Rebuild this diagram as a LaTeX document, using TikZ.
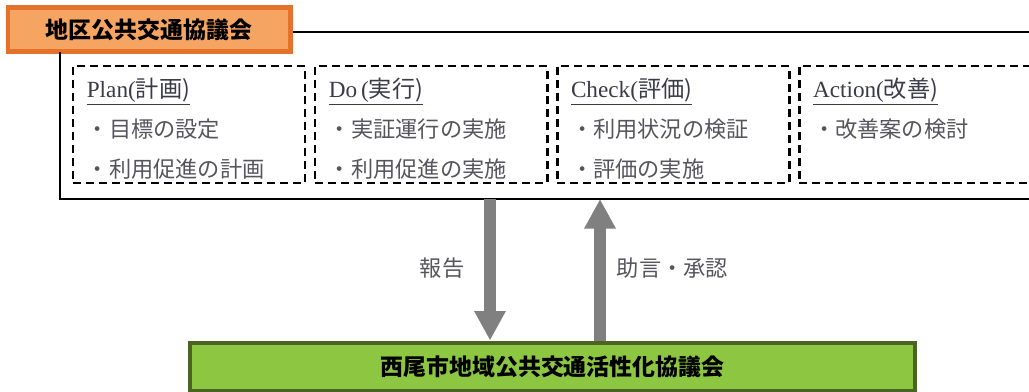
\documentclass[tikz,border=0pt]{standalone}
\usepackage{fontspec}
\setmainfont{Liberation Serif}
\newfontfamily\jp{Noto Sans CJK JP}
\usepackage{xcolor}
\usetikzlibrary{arrows.meta, positioning}
\definecolor{orgfill}{HTML}{F6A462}
\definecolor{orgline}{HTML}{E4722A}
\definecolor{grnfill}{HTML}{8DC641}
\definecolor{grnline}{HTML}{4B6426}
\definecolor{headgray}{HTML}{3A3A48}
\definecolor{txtgray}{HTML}{55555C}
\definecolor{arrgray}{HTML}{808080}

\begin{document}
\begin{tikzpicture}[
    x=0.025cm, y=-0.025cm,
    council/.style={draw, line width=3.5pt, font=\jp\bfseries\fontsize{16.3}{19}\selectfont, inner sep=0pt},
    phase/.style={draw, line width=2pt, dash pattern=on 5.7pt off 3.5pt, minimum width=5.8cm, minimum height=2.92cm, inner sep=0pt},
    head/.style={anchor=west, inner sep=0pt, text=headgray, font=\fontsize{16.5}{19}\selectfont},
    item/.style={anchor=west, inner sep=0pt, text=txtgray, font=\jp\fontsize{15.8}{19}\selectfont},
    flow/.style={draw=arrgray, line width=8pt, -{Triangle[length=21pt, width=21pt]}},
    tag/.style={text=txtgray, font=\jp\fontsize{15.8}{19}\selectfont},
]
  \useasboundingbox (0,0) rectangle (1029,392);

  % councils
  \node[council, fill=orgfill, draw=orgline, minimum width=7.05cm, minimum height=1.12cm] (area) at (149,29.5) {地区公共交通協議会};
  \node[council, fill=grnfill, draw=grnline, minimum width=18.12cm, minimum height=1.2cm] (city) at (552.5,367) {西尾市地域公共交通活性化協議会};

  % frame of the area council
  \draw[line width=1.5pt] (area.east |- 0,32) -- ++(760,0);
  \draw[line width=1.5pt] (60,52) |- (1040,199);

  % PDCA
  \node[phase] (plan) at (189,124.5) {};
  \node[phase, right=0.18cm of plan] (do) {};
  \node[phase, right=0.18cm of do] (check) {};
  \node[phase, right=0.18cm of check] (act) {};

  \node[head] (planh) at ([shift={(15,27)}]plan.north west) {\underline{Plan(\jp{計画})}};
  \node[item] at ([shift={(0,37)}]planh.west) {・目標の設定};
  \node[item] at ([shift={(0,77)}]planh.west) {・利用促進の計画};

  \node[head] (doh) at ([shift={(15,27)}]do.north west) {\underline{Do\,(\jp{実行})}};
  \node[item] at ([shift={(0,37)}]doh.west) {・実証運行の実施};
  \node[item] at ([shift={(0,77)}]doh.west) {・利用促進の実施};

  \node[head] (checkh) at ([shift={(15,27)}]check.north west) {\underline{Check(\jp{評価})}};
  \node[item] at ([shift={(0,37)}]checkh.west) {・利用状況の検証};
  \node[item] at ([shift={(0,77)}]checkh.west) {・評価の実施};

  \node[head] (acth) at ([shift={(15,27)}]act.north west) {\underline{Action(\jp{改善})}};
  \node[item] at ([shift={(0,37)}]acth.west) {・改善案の検討};

  % report and advice
  \coordinate (rep) at (490,199);
  \coordinate (adv) at (600,199);
  \draw[flow] (rep) -- (rep |- city.north);
  \draw[flow] (adv |- city.north) -- (adv);
  \node[tag, left=0.52cm of rep, yshift=-1.73cm] {報告};
  \node[tag, right=0.3cm of adv, yshift=-1.73cm] {助言・承認};
\end{tikzpicture}
\end{document}
